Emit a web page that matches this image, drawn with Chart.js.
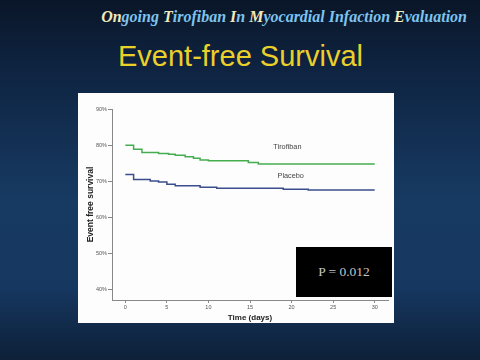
<!DOCTYPE html>
<html>
<head>
<meta charset="utf-8">
<script src="https://cdn.jsdelivr.net/npm/chart.js@4"></script>
<style>
  html, body { margin: 0; padding: 0; }
  body {
    width: 480px; height: 360px; position: relative; overflow: hidden;
    background: linear-gradient(to bottom, #0a1628 0%, #0e2340 18%, #173a62 55%, #163760 80%, #0d2038 100%);
  }
  #sup {
    position: absolute; right: 13px; top: 8px;
    font: italic bold 16px "Liberation Serif", "Times New Roman", serif;
    color: #7ec4ee; white-space: nowrap;
  }
  #sup b { color: #f2eab8; }
  #ttl {
    position: absolute; left: 118px; top: 40px;
    font: 29px "Liberation Sans", Arial, sans-serif;
    color: #ecd02a; white-space: nowrap;
  }
  #box {
    position: absolute; left: 78px; top: 93px; width: 316px; height: 230px;
    background: #fdfdfd;
  }
  #pval {
    position: absolute; left: 296px; top: 247px; width: 96px; height: 50px;
    background: #000; color: #c4c4c4;
    font: 13.5px "Liberation Serif", "Times New Roman", serif;
    display: flex; align-items: center; justify-content: center;
  }
</style>
</head>
<body>
<div id="sup"><b>On</b>going <b>T</b>irofiban <b>I</b>n <b>M</b>yocardial Infaction <b>E</b>valuation</div>
<div id="ttl">Event-free Survival</div>
<div id="box"><canvas id="km" width="316" height="230"></canvas></div>
<div id="pval">P = 0.012</div>
<script>
// Kaplan-Meier steps (day, % event free)
const tiroDays = [0, 1, 2, 4, 5.2, 6, 7.2, 8.2, 9, 10, 14.8, 16, 30];
const tiroVals = [80, 78.9, 78.0, 77.7, 77.5, 77.2, 76.8, 76.4, 75.9, 75.7, 75.2, 74.8, 74.8];
const placDays = [0, 1, 3, 4, 5, 6, 9, 11, 19, 22, 30];
const placVals = [71.9, 70.5, 70.1, 69.8, 69.2, 68.8, 68.4, 68.1, 67.8, 67.6, 67.6];

const xTicks = [0, 5, 10, 15, 20, 25, 30];
const yTicks = [40, 50, 60, 70, 80, 90];
const seriesNames = ["Tirofiban", "Placebo"];

function toPoints(days, vals) {
  return days.map((d, i) => ({ x: d, y: vals[i] }));
}

// curve labels, placed in data units
const curveLabels = {
  id: "curveLabels",
  afterDatasetsDraw(chart) {
    var ctx = chart.ctx;
    var xs = chart.scales.x, ys = chart.scales.y;
    ctx.save();
    ctx.font = "7.3px 'Liberation Sans', Arial, sans-serif";
    ctx.fillStyle = "#444";
    ctx.textAlign = "center";
    ctx.textBaseline = "middle";
    ctx.fillText(seriesNames[0], xs.getPixelForValue(19.5), ys.getPixelForValue(79.5));
    ctx.fillText(seriesNames[1], xs.getPixelForValue(19.9), ys.getPixelForValue(71.5));
    ctx.restore();
  },
};

var ctx = document.getElementById("km").getContext("2d");
new Chart(ctx, {
  type: "line",
  data: {
    datasets: [
      {
        label: seriesNames[0],
        data: toPoints(tiroDays, tiroVals),
        borderColor: "#45ad4f",
        borderWidth: 1.5,
        stepped: "before",
        pointRadius: 0,
        fill: false,
      },
      {
        label: seriesNames[1],
        data: toPoints(placDays, placVals),
        borderColor: "#3b4d8c",
        borderWidth: 1.5,
        stepped: "before",
        pointRadius: 0,
        fill: false,
      },
    ],
  },
  options: {
    responsive: false,
    animation: false,
    layout: { padding: { top: 16, right: 6, left: 0, bottom: 0 } },
    plugins: { legend: { display: false }, tooltip: { enabled: false } },
    scales: {
      x: {
        type: "linear",
        min: -1.6,
        max: 31.6,
        afterBuildTicks: (s) => { s.ticks = xTicks.map((v) => ({ value: v })); },
        afterFit: (s) => { s.height = 23; },
        grid: { drawOnChartArea: false, drawTicks: true, tickLength: 3, color: "#888" },
        border: { color: "#888", width: 1 },
        ticks: { font: { size: 5.5 }, color: "#555", padding: 1, maxRotation: 0 },
        title: {
          display: true, text: "Time (days)", color: "#222",
          font: { size: 8, weight: "bold", family: "'Liberation Sans', Arial, sans-serif" },
          padding: { top: 0, bottom: 0 },
        },
      },
      y: {
        type: "linear",
        min: 37.2,
        max: 90,
        afterBuildTicks: (s) => { s.ticks = yTicks.map((v) => ({ value: v })); },
        afterFit: (s) => { s.width = 34; },
        grid: { drawOnChartArea: false, drawTicks: true, tickLength: 4, color: "#888" },
        border: { color: "#888", width: 1 },
        ticks: {
          font: { size: 5.5 }, color: "#555", padding: 1,
          callback: (v) => v + "%",
        },
        title: {
          display: true, text: "Event free survival", color: "#222",
          font: { size: 8.5, weight: "bold", family: "'Liberation Sans', Arial, sans-serif" },
          padding: { top: 8, bottom: 0 },
        },
      },
    },
  },
  plugins: [curveLabels],
});
</script>
</body>
</html>
